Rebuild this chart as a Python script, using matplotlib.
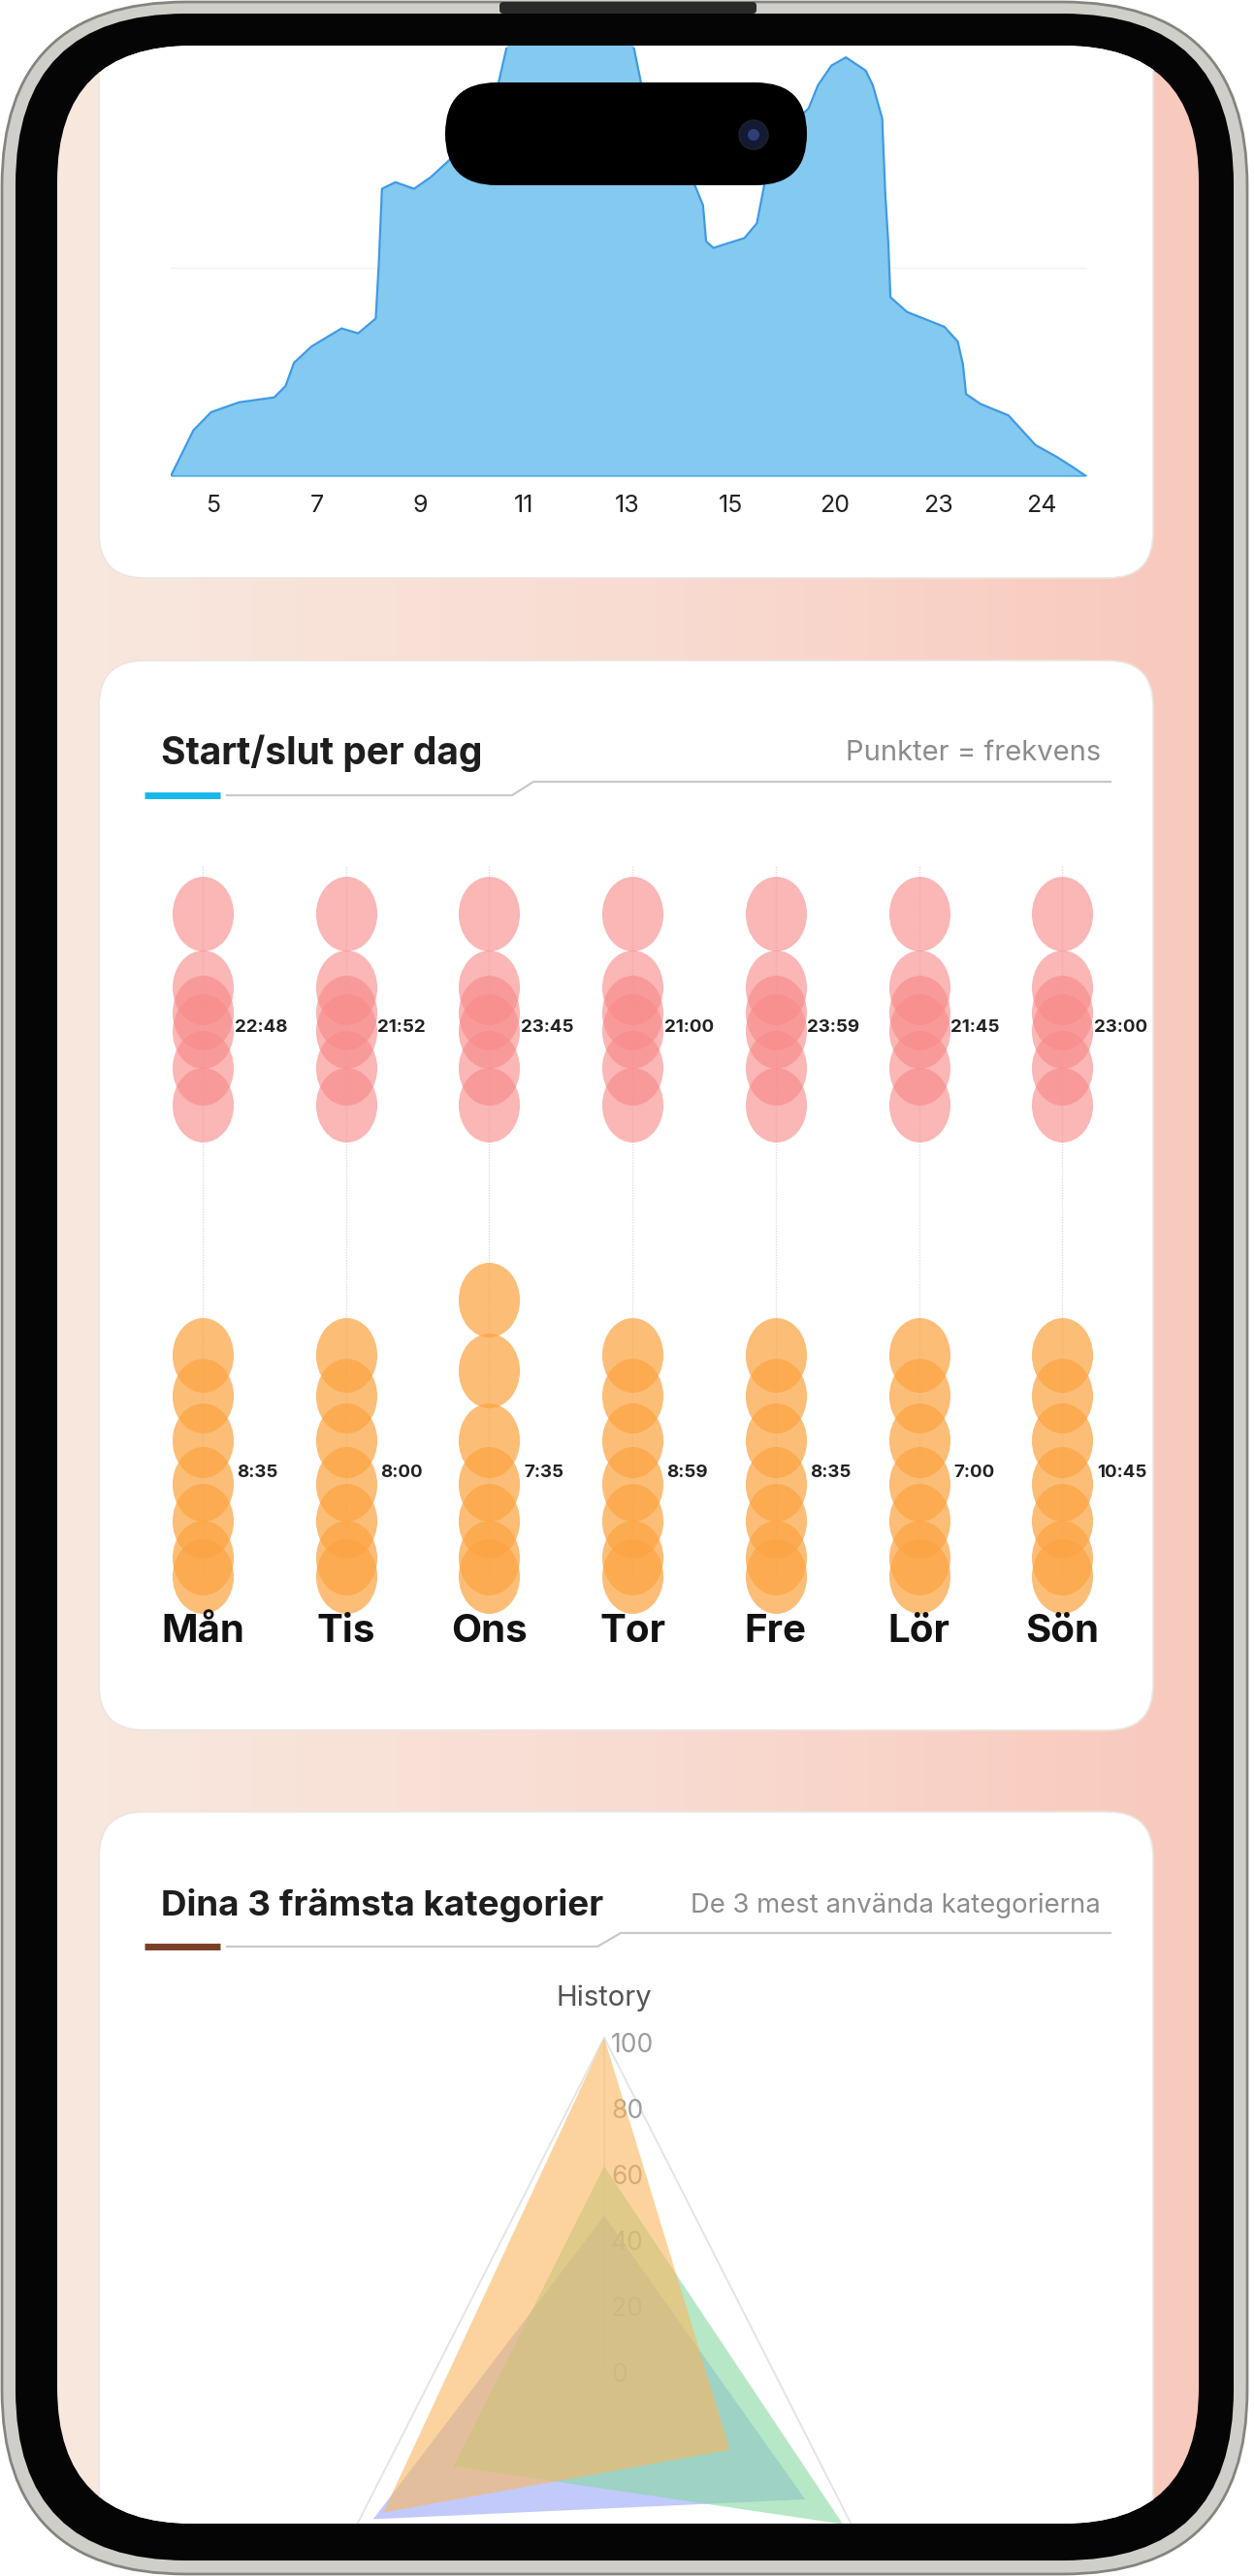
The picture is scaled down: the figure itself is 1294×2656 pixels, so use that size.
import numpy as np
import matplotlib
matplotlib.use('Agg')
import matplotlib.pyplot as plt
from matplotlib.patches import FancyBboxPatch, Circle
from matplotlib.path import Path

plt.rcParams['font.family'] = ['Inter', 'DejaVu Sans']

W, H = 1294, 2656

# --- area chart (hour histogram) ---
hour_labels = ['5', '7', '9', '11', '13', '15', '20', '23', '24']
area_x = [-0.41, -0.19, -0.02, 0.25, 0.59, 0.70, 0.78, 0.95, 1.24, 1.40, 1.57, 1.60, 1.63,
          1.76, 1.94, 2.10, 2.29, 2.54, 2.75, 2.83, 2.89, 3.49, 4.00, 4.13, 4.37, 4.60,
          4.73, 4.76, 4.83, 5.13, 5.25, 5.33, 5.52, 5.75, 5.84, 5.97, 6.11, 6.30, 6.37,
          6.46, 6.49, 6.52, 6.54, 6.70, 6.90, 7.06, 7.19, 7.24, 7.27, 7.41, 7.68, 7.81,
          7.94, 8.14, 8.29, 8.43]
area_y = [0, 28, 39, 45, 48, 55, 69, 79, 90, 87, 96, 130, 175,
          179, 175, 182, 193, 215, 238, 260, 280, 290, 280, 240, 210, 185,
          165, 143, 139, 145, 154, 180, 210, 224, 238, 250, 255, 247, 238,
          218, 172, 141, 109, 100, 95, 91, 82, 68, 50, 44, 37, 28,
          19, 12, 6, 0]

# --- start/end per day (hours) ---
days = ['Mån', 'Tis', 'Ons', 'Tor', 'Fre', 'Lör', 'Sön']
end_hours = [[24.0, 22.0, 21.3, 20.8, 19.8, 18.8]] * 7
start_hours = [[12.0, 10.9, 9.7, 8.5, 7.5, 6.5, 6.0],
               [12.0, 10.9, 9.7, 8.5, 7.5, 6.5, 6.0],
               [13.5, 11.6, 9.7, 8.5, 7.5, 6.5, 6.0],
               [12.0, 10.9, 9.7, 8.5, 7.5, 6.5, 6.0],
               [12.0, 10.9, 9.7, 8.5, 7.5, 6.5, 6.0],
               [12.0, 10.9, 9.7, 8.5, 7.5, 6.5, 6.0],
               [12.0, 10.9, 9.7, 8.5, 7.5, 6.5, 6.0]]
end_labels = ['22:48', '21:52', '23:45', '21:00', '23:59', '21:45', '23:00']
start_labels = ['8:35', '8:00', '7:35', '8:59', '8:35', '7:00', '10:45']

# --- radar (top categories) ---
radar_cats = ['History', '', '']
radar_orange = [100, 50, 88]
radar_green = [61, 95, 60]
radar_blue = [46, 80, 92]
radar_ticks = [0, 20, 40, 60, 80, 100]


def px_axes(x0, y0, x1, y1, **kw):
    return fig.add_axes([x0 / W, 1 - y1 / H, (x1 - x0) / W, (y1 - y0) / H], **kw)


def rbox(x, y, w, h, r, **kw):
    return FancyBboxPatch((x, y), w, h, boxstyle=f"round,pad=0,rounding_size={r}", **kw)


fig = plt.figure(figsize=(W / 100, H / 100), dpi=100)
fig.patch.set_facecolor('white')
bg = px_axes(0, 0, W, H)
bg.set_xlim(0, W)
bg.set_ylim(H, 0)
bg.axis('off')

# phone body
bg.add_patch(rbox(2, 2, 1284, 2652, 190, facecolor='#cfcec8', edgecolor='#85857f', lw=2))
bg.add_patch(rbox(16, 14, 1256, 2626, 176, facecolor='#050505', edgecolor='none'))
bg.add_patch(rbox(515, 2, 265, 12, 4, facecolor='#2a2a2a', edgecolor='none'))
screen = rbox(59, 47, 1177, 2555, 140, facecolor='none', edgecolor='none')
bg.add_patch(screen)

grad = np.linspace(0, 1, 200)[None, :]
cmap = matplotlib.colors.LinearSegmentedColormap.from_list('bgc', ['#f8e8de', '#f9dcd2', '#f8c9bd'])
im = bg.imshow(grad, extent=(59, 1236, 2602, 47), aspect='auto', cmap=cmap, zorder=1)
im.set_clip_path(screen)

for (cy0, cy1) in [(-80, 596), (681, 1784), (1868, 2720)]:
    c = rbox(102, cy0, 1087, cy1 - cy0, 47, facecolor='white', edgecolor='#ece4df', lw=1.2, zorder=2)
    bg.add_patch(c)
    c.set_clip_path(screen)

# card headers
hdr = [("Start/slut per dag", "Punkter = frekvens", 28, 21, 777, 820, 806, '#1ab8ea', 528, 550),
       ("Dina 3 främsta kategorier", "De 3 mest använda kategorierna", 26.5, 19.8, 1965, 2007, 1993, '#7b3f28', 616, 640)]
for title, sub, tfs, sfs, ty, ly, ly2, bar_c, xa, xb in hdr:
    bg.text(166, ty, title, fontsize=tfs, fontweight='bold', color='#1e1e1e', va='center', zorder=5)
    bg.text(1135, ty, sub, fontsize=sfs, color='#8c8c8c', va='center', ha='right', zorder=5)
    bg.plot([149, 227], [ly, ly], color=bar_c, lw=5, solid_capstyle='butt', zorder=5)
    bg.plot([234, xa, xb, 1145], [ly, ly, ly2, ly2], color='#c9c9c9', lw=1.6, zorder=5)

# area chart
ax1 = px_axes(176, 49, 1121, 491)
ax1.set_xlim(-0.41, 8.44)
ax1.set_ylim(0, 261)
ax1.patch.set_alpha(0)
poly = ax1.fill_between(area_x, area_y, 0, color='#84c9ef', lw=0, zorder=2)
ln, = ax1.plot(area_x, area_y, color='#3f9ae6', lw=1.6, zorder=3)
ax1.plot([-0.41, 8.43], [0, 0], color='#3f9ae6', lw=1.8, zorder=3)
poly.set_clip_path(screen)
ln.set_clip_path(screen)
ax1.set_xticks(range(len(hour_labels)))
ax1.set_xticklabels(hour_labels, fontsize=18, color='#222')
ax1.set_yticks([127])
ax1.set_yticklabels([])
ax1.grid(axis='y', color='#f0f0f0', lw=1)
ax1.tick_params(length=0, pad=14)
for s in ax1.spines.values():
    s.set_visible(False)

# dot plot
ax2 = px_axes(150, 880, 1175, 1720)
ax2.set_xlim(-0.4, 6.54)
ax2.set_ylim(3.5, 25.63)
ax2.axis('off')
ell = Path.unit_circle()
ell = Path(ell.vertices * np.array([0.82, 1.0]), ell.codes)
for i, d in enumerate(days):
    ax2.plot([i, i], [6.0, 25.3], color='#dedede', lw=1, ls=(0, (1, 1)), zorder=1)
    ax2.scatter([i] * len(end_hours[i]), end_hours[i], s=3070, marker=ell,
                color='#f98a8a', alpha=0.62, linewidths=0, zorder=2)
    ax2.scatter([i] * len(start_hours[i]), start_hours[i], s=3070, marker=ell,
                color='#fca443', alpha=0.72, linewidths=0, zorder=2)
    ax2.text(i + 0.22, 20.9, end_labels[i], fontsize=13.5, fontweight='bold', color='#222', va='center', zorder=4)
    ax2.text(i + 0.24, 8.8, start_labels[i], fontsize=13.5, fontweight='bold', color='#222', va='center', zorder=4)
    ax2.text(i, 4.5, d, fontsize=29, fontweight='bold', color='#111', ha='center', va='center', zorder=4)

# radar
ax3 = px_axes(324, 2101, 922, 2781, projection='polar')
ax3.set_aspect('auto')
ax3.set_theta_zero_location('N')
ax3.set_theta_direction(-1)
ax3.set_ylim(0, 100)
ax3.patch.set_alpha(0)
ax3.grid(False)
ax3.spines['polar'].set_visible(False)
ax3.set_xticks([])
ax3.set_yticks([])
ang = np.linspace(0, 2 * np.pi, len(radar_cats), endpoint=False).tolist()
angc = ang + ang[:1]
g1, = ax3.plot(angc, [100] * 4, color='#e4e4e4', lw=1.4, zorder=1)
g2, = ax3.plot([0, 0], [0, 100], color='#e8e8e8', lw=1.2, zorder=1)
for t in radar_ticks:
    ax3.annotate(str(t), (0, t), xytext=(5, -6), textcoords='offset points',
                 fontsize=19, color='#9c9c9c', ha='left', va='center', zorder=1)
ax3.text(0, 112, radar_cats[0], fontsize=21, color='#555', ha='center', va='center')
for vals, col, a in [(radar_blue, '#8f9ff6', 0.55), (radar_green, '#86d8a2', 0.6), (radar_orange, '#fbb760', 0.6)]:
    p = ax3.fill(angc, vals + vals[:1], color=col, alpha=a, lw=0, zorder=2)[0]
    p.set_clip_path(screen)
for a in (g1, g2):
    a.set_clip_path(screen)

# dynamic island on top
top = px_axes(0, 0, W, H)
top.set_xlim(0, W)
top.set_ylim(H, 0)
top.axis('off')
top.add_patch(rbox(459, 85, 373, 106, 53, facecolor='#000', edgecolor='none'))
top.add_patch(Circle((777, 139), 15, facecolor='#141a33', edgecolor='#222', lw=1))
top.add_patch(Circle((777, 139), 6, facecolor='#2e3f78', edgecolor='none'))

fig.savefig('out.png', dpi=100)
